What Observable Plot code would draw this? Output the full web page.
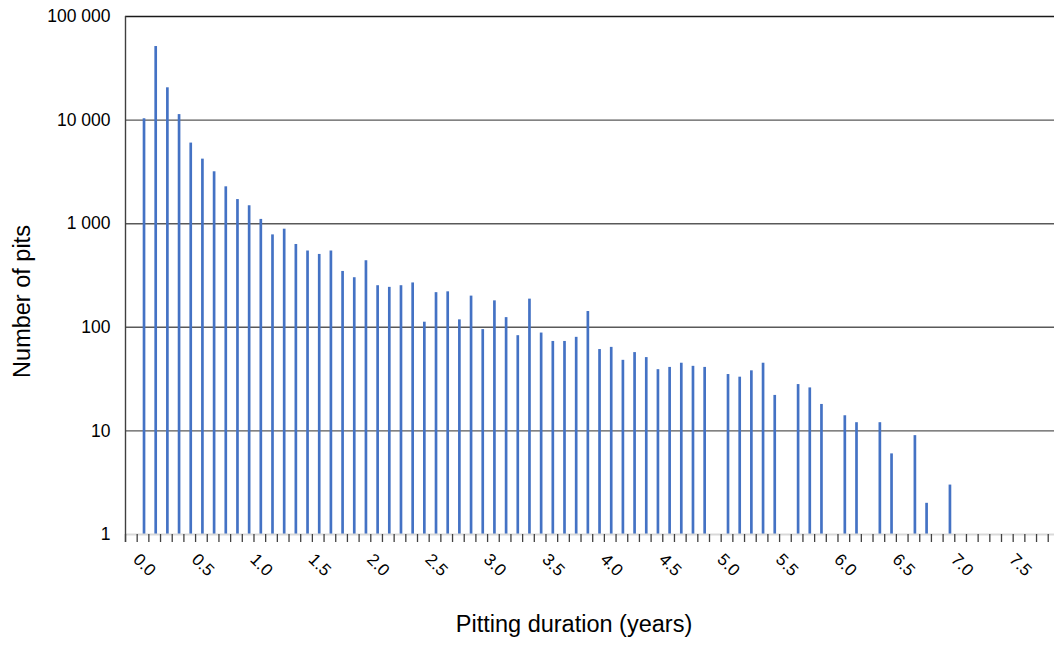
<!DOCTYPE html>
<html><head><meta charset="utf-8">
<script src="https://cdn.jsdelivr.net/npm/d3@7"></script>
<script src="https://cdn.jsdelivr.net/npm/@observablehq/plot@0.6"></script>
<style>body{margin:0;background:#fff;} #chart svg{display:block;}</style>
</head><body><div id="chart"></div>
<script>
// Pitting duration categories (years), 0.1-year classes
const durations = d3.range(80).map(i => (i / 10).toFixed(1));
// Number of pits per class (null = no pits)
const pitCounts = [
  null, 10300, 51300, 20500, 11300, 6000, 4200, 3170, 2270, 1710,
  1490, 1100, 780, 885, 630, 545, 505, 545, 346, 301,
  439, 252, 243, 252, 268, 112, 216, 220, 118, 200,
  95, 180, 124, 83, 187, 88, 73, 73, 80, 142,
  61, 64, 48, 57, 51, 39, 41, 45, 42, 41,
  null, 35, 33, 38, 45, 22, null, 28, 26, 18,
  null, 14, 12, null, 12, 6, null, 9, 2, null,
  3, null, null, null, null, null, null, null, null, null
];
const xTickLabels = ["0.0","0.5","1.0","1.5","2.0","2.5","3.0","3.5","4.0","4.5","5.0","5.5","6.0","6.5","7.0","7.5"];
const yTicks = [1, 10, 100, 1000, 10000, 100000];
const xTitle = "Pitting duration (years)";
const yTitle = "Number of pits";

const data = durations.map((d, i) => ({duration: d, count: pitCounts[i]})).filter(d => d.count != null);
const left = 125, bandW = 11.68;
const xRange = [left, left + bandW * durations.length];
const half = bandW / 2;
const fmt = d => d3.format(",")(d).replace(/,/g, " ");

const plot = Plot.plot({
  width: 1054, height: 647,
  marginLeft: 125, marginRight: 0, marginTop: 16, marginBottom: 113,
  style: {fontFamily: "'Liberation Sans', Arial, sans-serif", color: "#000", background: "#fff"},
  x: {type: "band", domain: durations, range: xRange, padding: 0, label: null},
  y: {type: "log", domain: [1, 100000], label: null},
  marks: [
    Plot.gridY(yTicks.slice(1, -1), {stroke: "#595959", strokeOpacity: 1, strokeWidth: 1.4}),
    Plot.ruleY([100000], {stroke: "#1a1a1a", strokeWidth: 1.6}),
    Plot.barY(data, {x: "duration", y1: () => 1, y2: "count", fill: "#4472C4", insetLeft: 6, insetRight: 3}),
    Plot.ruleY([1], {stroke: "#d9d9d9", strokeWidth: 2}),
    Plot.axisX(durations, {tickSize: 8, tickFormat: () => "", dx: -half, stroke: "#404040", strokeWidth: 1.3, label: null}),
    Plot.ruleX([durations[0]], {x: d => d, dx: -half, stroke: "#404040", strokeWidth: 1.4, insetBottom: -8}),
    Plot.axisY(yTicks, {tickSize: 0, tickPadding: 15, fontSize: 17.5, tickFormat: fmt, label: null}),
    Plot.text(xTickLabels, {x: d => d, frameAnchor: "bottom", rotate: 45, textAnchor: "start", fontSize: 17, dy: 26, dx: 1}),
    Plot.text([xTitle], {frameAnchor: "bottom", textAnchor: "middle", dy: 97, dx: -16, fontSize: 23.5}),
    Plot.text([yTitle], {frameAnchor: "left", textAnchor: "middle", rotate: -90, dx: -103, dy: 26, fontSize: 23.5})
  ]
});
document.getElementById("chart").appendChild(plot);
</script>
</body></html>
